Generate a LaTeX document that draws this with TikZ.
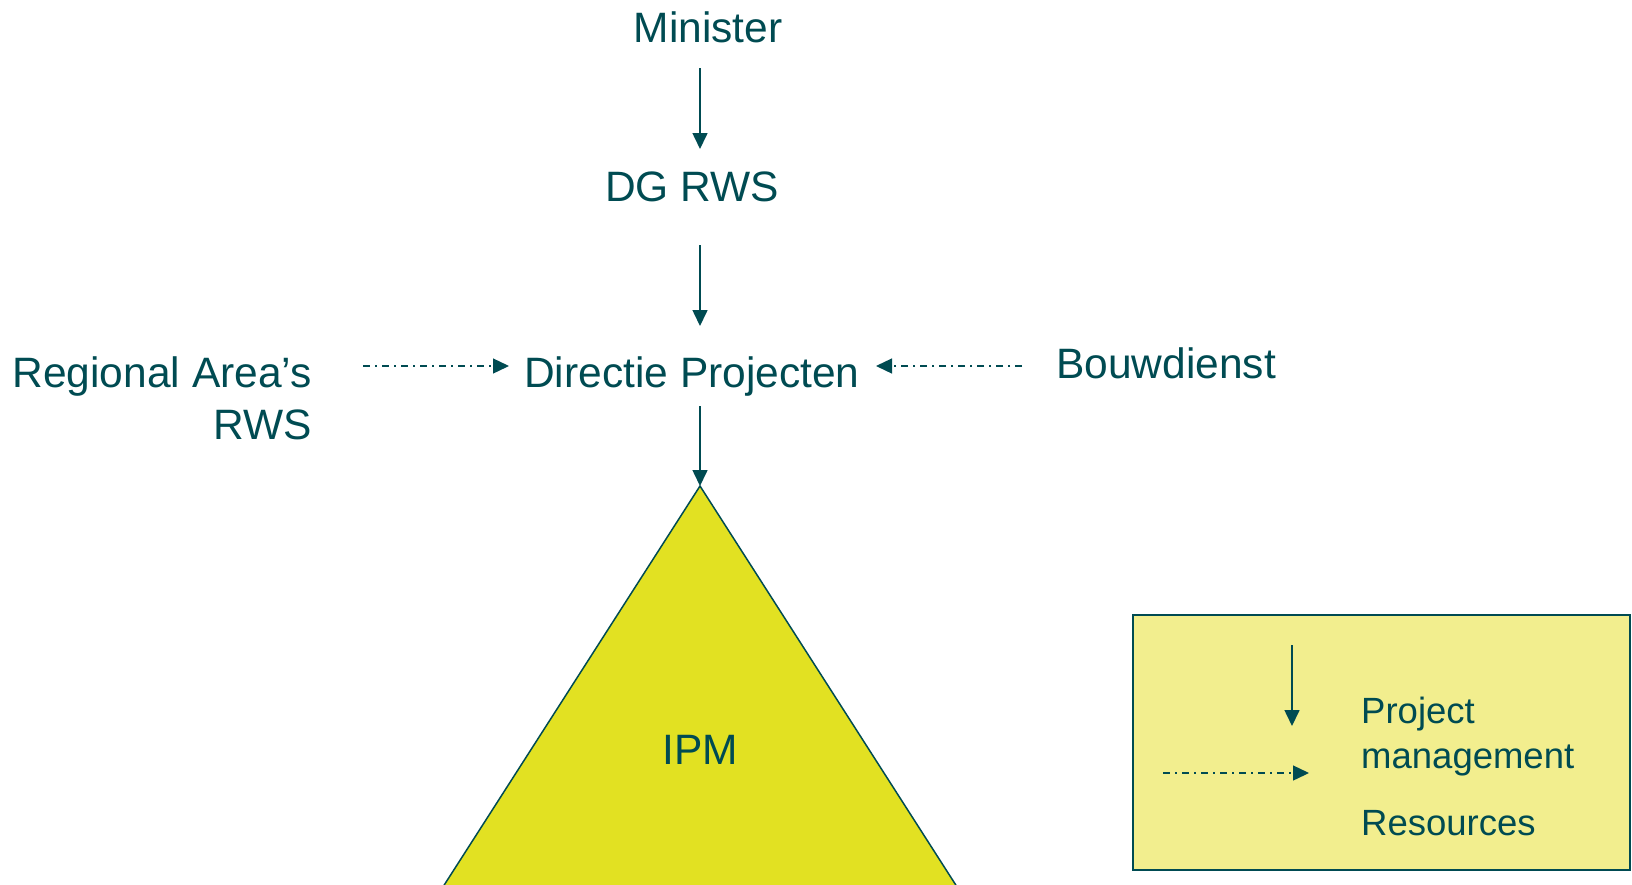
\documentclass[tikz,border=0pt]{standalone}
\usepackage{fontspec}
\setmainfont{Liberation Sans}
\usetikzlibrary{arrows.meta}
\definecolor{teal}{HTML}{004B52}
\definecolor{triyellow}{HTML}{E2E122}
\definecolor{legyellow}{HTML}{F2EE8E}
\tikzset{
  lbl/.style={text=teal, inner sep=0pt, font=\fontsize{42.5}{52}\selectfont},
  leglbl/.style={text=teal, inner sep=0pt, font=\fontsize{36.5}{45}\selectfont, anchor=base west},
  pm/.style={draw=teal, line width=1.6pt, -{Triangle[length=16pt,width=15pt]}},
  res/.style={draw=teal, line width=1.3pt, dash pattern=on 7pt off 5pt on 2pt off 5pt, -{Triangle[length=16pt,width=15pt]}}
}
\begin{document}
\begin{tikzpicture}[x=1pt,y=-1pt]
\useasboundingbox (0,0) rectangle (1632,884);
\clip (0,0) rectangle (1632,884);
% triangle (base lies below the picture edge)
\coordinate (apex) at (700,486);
\draw[fill=triyellow, draw=teal, line width=1.5pt] (apex) -- (432,904) -- (968,904) -- cycle;
\node[lbl, anchor=base] (ipm) at (700,764) {IPM};
% nodes
\node[lbl, anchor=base] (min) at (708,42) {Minister};
\node[lbl, anchor=base] (dg) at (692,201) {DG RWS};
\node[lbl, anchor=base] (dp) at (692,387) {Directie Projecten};
\node[lbl, anchor=base east] (reg) at (312,387) {Regional Area’s};
\node[lbl, anchor=base east] (rws) at (312,439) {RWS};
\node[lbl, anchor=base west] (bouw) at (1056,378) {Bouwdienst};
% connector anchor points
\coordinate (a1s) at (700,68);  \coordinate (a1e) at (700,149);
\coordinate (a2s) at (700,245); \coordinate (a2e) at (700,326);
\coordinate (a3s) at (700,406);
\coordinate (l1s) at (363,366); \coordinate (l1e) at (509,366);
\coordinate (r1s) at (1022,366); \coordinate (r1e) at (876,366);
\draw[pm] (a1s) -- (a1e);
\draw[pm] (a2s) -- (a2e);
\draw[pm] (a3s) -- (apex);
\draw[res] (l1s) -- (l1e);
\draw[res] (r1s) -- (r1e);
% legend
\node[draw=teal, fill=legyellow, line width=1.5pt, minimum width=497pt, minimum height=255pt, anchor=north west, inner sep=0pt] (leg) at (1132,614) {};
\coordinate (g1s) at (1292,645); \coordinate (g1e) at (1292,726);
\coordinate (g2s) at (1163,773); \coordinate (g2e) at (1309,773);
\draw[pm] (g1s) -- (g1e);
\draw[res] (g2s) -- (g2e);
\node[leglbl] (proj) at (1361,723) {Project};
\node[leglbl] (mgmt) at (1361,768) {management};
\node[leglbl] (resl) at (1361,835) {Resources};
\end{tikzpicture}
\end{document}
